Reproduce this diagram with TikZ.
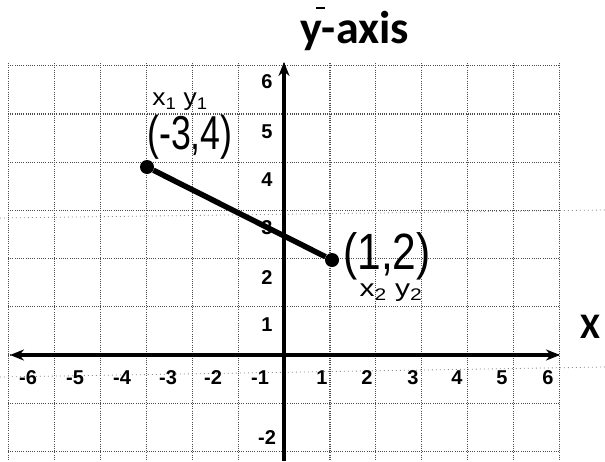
\documentclass[tikz,border=0pt]{standalone}
\usepackage{fontspec}
\setmainfont{Liberation Sans}
\newfontfamily\titlefont{Carlito}
\usetikzlibrary{arrows.meta}
\tikzset{
  gridline/.style={black!70, line width=1.2pt, dash pattern=on 1pt off 1.2pt},
  faintline/.style={black!45, line width=0.8pt, dash pattern=on 1pt off 3pt},
  axisline/.style={line width=3.4pt, -{Stealth[length=14pt,width=11pt]}},
  ticklab/.style={font=\fontsize{20}{20}\selectfont\bfseries, inner sep=0pt},
  hand/.style={font=\fontsize{34}{34}\selectfont, inner sep=0pt},
  handsmall/.style={font=\fontsize{24}{24}\selectfont, inner sep=0pt},
  dot/.style={circle, fill=black, inner sep=0pt, minimum size=14pt},
  segment/.style={line width=5.5pt},
}
\begin{document}
\begin{tikzpicture}[x=1pt,y=-1pt]
\useasboundingbox (0,0) rectangle (605,461);
\fill[white] (0,0) rectangle (605,461);
% faint scan lines
\draw[faintline] (0,218) -- (605,210);
\draw[faintline] (0,377) -- (605,367);
% grid
\foreach \i in {-6,...,6}
  \draw[gridline] ({284+45.9*\i},63) -- ({284+45.9*\i},461);
\foreach \j in {-2,...,6}
  \draw[gridline] (8,{355-48.2*\j}) -- (559,{355-48.2*\j});
% axes
\coordinate (xl) at (284,355);
\coordinate (xleft) at (10,355);
\coordinate (xright) at (560,355);
\coordinate (ybot) at (284,461);
\coordinate (ytop) at (284,62);
\draw[axisline] (xl) -- (xleft);
\draw[axisline] (xl) -- (xright);
\draw[axisline] (ybot) -- (ytop);
% tick labels x
\foreach \v/\p in {-6/28,-5/75,-4/122,-3/168,-2/213,-1/260,1/322,2/367,3/413,4/457,5/502,6/548}
  \node[ticklab] (xt\p) at (\p,378) {\v};
% tick labels y
\foreach \v/\p in {6/82,5/132,4/180,3/228,2/278,1/325,-2/438}
  \node[ticklab] (yt\p) at (267,\p) {\v};
% title
\node[font=\titlefont\fontsize{46}{46}\selectfont\bfseries, inner sep=0pt, anchor=base] (title) at (355,43) {y-axis};
\draw[line width=1.6pt] (316,8) -- (325,8);
\node[font=\titlefont\fontsize{36}{36}\selectfont\bfseries, inner sep=0pt, anchor=base west] (xaxis) at (580,338) {X};
% points and segment
\node[dot] (A) at (147,167) {};
\node[dot] (B) at (332,260) {};
\draw[segment] (A) -- (B);
% handwritten annotations
\node[hand, xscale=1.05, yscale=1.4] (Alab) at (190,137) {(-3,4)};
\node[handsmall, xscale=1.1] (Asub) at (180,102) {x\textsubscript{1} y\textsubscript{1}};
\node[hand, xscale=1.25, yscale=1.5] (Blab) at (387,256) {(1,2)};
\node[handsmall, xscale=1.25] (Bsub) at (391,293) {x\textsubscript{2} y\textsubscript{2}};
\end{tikzpicture}
\end{document}
